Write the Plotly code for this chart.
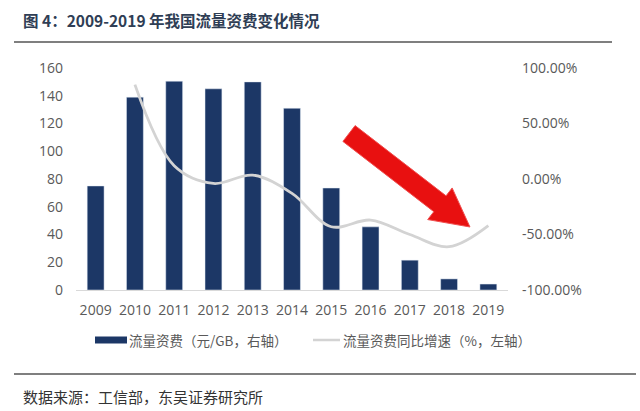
import math
import plotly.graph_objects as go

years = ["2009", "2010", "2011", "2012", "2013", "2014", "2015", "2016", "2017", "2018", "2019"]
tariff = [75, 139, 150.5, 145, 150, 131, 73.5, 45.5, 21.5, 8, 4.3]
growth_years = ["2010", "2011", "2012", "2013", "2014", "2015", "2016", "2017", "2018", "2019"]
growth = [85, 12, -4, 3.5, -13, -43, -37, -50, -61, -42]
left_ticks = [0, 20, 40, 60, 80, 100, 120, 140, 160]
right_ticks = [-100, -50, 0, 50, 100]
right_ticktext = ["-100.00%", "-50.00%", "0.00%", "50.00%", "100.00%"]

W, H = 640, 411
L, R, T, B = 76, 508, 68, 290
FONT = "Open Sans, Noto Sans CJK SC, sans-serif"
CJK = "Noto Sans CJK SC, sans-serif"


def px(x):
    return (x - L) / (R - L)


def py(y):
    return (B - y) / (B - T)


fig = go.Figure()
fig.add_trace(go.Bar(x=years, y=tariff, marker_color="#1C3766", yaxis="y",
                     name="流量资费（元/GB，右轴）", showlegend=False))
fig.add_trace(go.Scatter(x=growth_years, y=growth, mode="lines", yaxis="y2",
                         line=dict(color="#D3D3D3", width=2.8, shape="spline", smoothing=1.0),
                         name="流量资费同比增速（%，左轴）", showlegend=False))

# arrow polygon (decoration)
tail = (349, 133.5)
tip = (470, 227)
dx, dy = tip[0] - tail[0], tip[1] - tail[1]
ln = math.hypot(dx, dy)
ux, uy = dx / ln, dy / ln
nx, ny = -uy, ux
sw, hw, hl = 10, 20, 38
bx, by = tip[0] - ux * hl, tip[1] - uy * hl
pts = [
    (tail[0] + nx * sw, tail[1] + ny * sw),
    (bx + nx * sw, by + ny * sw),
    (bx + nx * hw, by + ny * hw),
    tip,
    (bx - nx * hw, by - ny * hw),
    (bx - nx * sw, by - ny * sw),
    (tail[0] - nx * sw, tail[1] - ny * sw),
]
path = "M " + " L ".join(f"{px(a):.4f},{py(b):.4f}" for a, b in pts) + " Z"

LEG_Y = 340
shapes = [
    dict(type="path", xref="paper", yref="paper", path=path,
         fillcolor="#E81010", line=dict(color="#F05050", width=1)),
    # title rule
    dict(type="line", xref="paper", yref="paper", x0=px(14), x1=px(612), y0=py(42), y1=py(42),
         line=dict(color="#7F7F7F", width=2)),
    # footer rule
    dict(type="line", xref="paper", yref="paper", x0=px(14), x1=px(636), y0=py(374), y1=py(374),
         line=dict(color="#7F7F7F", width=2)),
    # legend swatches
    dict(type="rect", xref="paper", yref="paper", x0=px(95), x1=px(127), y0=py(LEG_Y - 3.5),
         y1=py(LEG_Y + 3.5), fillcolor="#1C3766", line=dict(width=0)),
    dict(type="line", xref="paper", yref="paper", x0=px(313), x1=px(340), y0=py(LEG_Y), y1=py(LEG_Y),
         line=dict(color="#D3D3D3", width=2.5)),
]

annotations = [
    dict(text="<b>图 4：2009-2019 年我国流量资费变化情况</b>", xref="paper", yref="paper",
         x=px(21), y=py(20), xanchor="left", yanchor="middle", showarrow=False,
         font=dict(family=CJK, size=15.5, color="#2F3E55")),
    dict(text="流量资费（元/GB，右轴）", xref="paper", yref="paper",
         x=px(127), y=py(LEG_Y), xanchor="left", yanchor="middle", showarrow=False,
         font=dict(family=CJK, size=13.5, color="#595959")),
    dict(text="流量资费同比增速（%，左轴）", xref="paper", yref="paper",
         x=px(341), y=py(LEG_Y), xanchor="left", yanchor="middle", showarrow=False,
         font=dict(family=CJK, size=13.5, color="#595959")),
    dict(text="数据来源：工信部，东吴证券研究所", xref="paper", yref="paper",
         x=px(21), y=py(396), xanchor="left", yanchor="middle", showarrow=False,
         font=dict(family=CJK, size=15, color="#333333")),
]

fig.update_layout(
    width=W, height=H,
    margin=dict(l=L, r=W - R, t=T, b=H - B, pad=0),
    paper_bgcolor="white", plot_bgcolor="white",
    bargap=0.57,
    showlegend=False,
    font=dict(family=FONT, size=14, color="#595959"),
    xaxis=dict(type="category", range=[-0.5, 10.5], showgrid=False, zeroline=False,
               showline=True, linecolor="#D9D9D9", linewidth=1, ticks="",
               tickfont=dict(size=14, color="#595959"), ticklabelstandoff=7),
    yaxis=dict(range=[0, 160], tickvals=left_ticks, showgrid=False, zeroline=False,
               showline=False, ticks="", tickfont=dict(size=14, color="#595959"),
               ticklabelstandoff=12),
    yaxis2=dict(range=[-100, 100], overlaying="y", side="right", tickvals=right_ticks,
                ticktext=right_ticktext, showgrid=False, zeroline=False, showline=False,
                ticks="", tickfont=dict(size=14, color="#595959"), ticklabelstandoff=13),
    shapes=shapes,
    annotations=annotations,
)

fig.write_html("out.html")
